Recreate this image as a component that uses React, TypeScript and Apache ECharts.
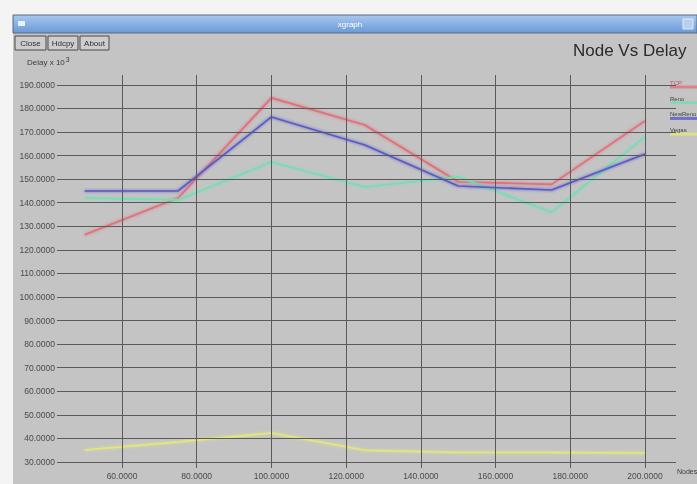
import React, { useEffect, useRef } from "react";
import * as echarts from "echarts";

const nodes = [50, 75, 100, 125, 150, 175, 200];
const tcp = [126.4, 142, 184.5, 173, 148.9, 147.8, 174.7];
const reno = [142, 141.2, 157.3, 146.7, 151, 136, 168];
const newReno = [145, 145, 176.4, 164.5, 147.1, 145.4, 160.7];
const vegas = [35.1, 38.5, 42.3, 35, 34, 34, 33.8];

const seriesNames = ["TCP", "Reno", "NewReno", "Vegas"];
const seriesColors = ["#e0707a", "#78dcb4", "#5a5ac8", "#e4e87a"];
const seriesValues = [tcp, reno, newReno, vegas];

const xTicks = [60, 80, 100, 120, 140, 160, 180, 200];
const yTicks = [30, 40, 50, 60, 70, 80, 90, 100, 110, 120, 130, 140, 150, 160, 170, 180, 190];

const buttons = ["Close", "Hdcpy", "About"];

export default function App() {
  const ref = useRef<HTMLDivElement>(null);
  useEffect(() => {
    if (!ref.current) return;
    const chart = echarts.init(ref.current, null, { renderer: "svg" });
    const font = "Liberation Sans";
    const gridStyle = { color: "#5a5a5a", width: 1, type: "solid" as const };
    const labelStyle = {
      fontFamily: font,
      fontSize: 8.5,
      color: "#4a4a4a",
      formatter: (p: any) => Number(p.value).toFixed(4),
    };
    const graphics: any[] = [
      { type: "rect", z: -10, shape: { x: 0, y: 0, width: 697, height: 484 }, style: { fill: "#f4f4f4" } },
      { type: "rect", z: -9, shape: { x: 13, y: 33, width: 684, height: 451 }, style: { fill: "#c4c4c4" } },
      {
        type: "rect",
        z: -8,
        shape: { x: 13, y: 15, width: 684, height: 18 },
        style: {
          fill: new echarts.graphic.LinearGradient(0, 0, 0, 1, [
            { offset: 0, color: "#a8c8ee" },
            { offset: 1, color: "#6b9ad6" },
          ]),
          stroke: "#5a6a80",
          lineWidth: 1,
        },
      },
      { type: "rect", shape: { x: 18, y: 21, width: 7, height: 5 }, style: { fill: "#e8f0fa" } },
      { type: "rect", shape: { x: 683, y: 19, width: 10, height: 10 }, style: { fill: "#b8d0ee", stroke: "#e0ecfa" } },
      {
        type: "text",
        x: 350,
        y: 24,
        style: { text: "xgraph", fill: "#ffffff", font: `8px ${font}`, align: "center", verticalAlign: "middle" },
      },
      {
        type: "text",
        x: 573,
        y: 50,
        style: { text: "Node Vs Delay", fill: "#2a2a2a", font: `17px ${font}`, verticalAlign: "middle" },
      },
      {
        type: "text",
        x: 27,
        y: 62,
        style: {
          text: "Delay x 10{sup|3}",
          fill: "#3a3a3a",
          font: `8px ${font}`,
          verticalAlign: "middle",
          rich: { sup: { fontSize: 7, fill: "#3a3a3a", verticalAlign: "top", padding: [0, 0, 6, 1] } },
        },
      },
      {
        type: "text",
        x: 677,
        y: 471,
        style: { text: "Nodes", fill: "#3a3a3a", font: `7px ${font}`, verticalAlign: "middle" },
      },
    ];
    const btnX = [15, 48, 80];
    const btnW = [31, 30, 29];
    buttons.forEach((b, i) => {
      graphics.push({
        type: "rect",
        shape: { x: btnX[i], y: 36, width: btnW[i], height: 14 },
        style: { fill: "#cdcdcd", stroke: "#4a4a4a", lineWidth: 1 },
      });
      graphics.push({
        type: "text",
        x: btnX[i] + btnW[i] / 2,
        y: 43,
        style: { text: b, fill: "#303030", font: `8px ${font}`, align: "center", verticalAlign: "middle" },
      });
    });
    seriesNames.forEach((n, i) => {
      const y = 83 + i * 15.7;
      graphics.push({
        type: "line",
        shape: { x1: 670, y1: y + 4, x2: 697, y2: y + 4 },
        style: { stroke: seriesColors[i], lineWidth: 3, opacity: 0.8 },
      });
      graphics.push({
        type: "text",
        x: 670,
        y,
        style: { text: n, fill: i === 0 ? "#c05060" : "#404040", font: `6px ${font}`, verticalAlign: "middle" },
      });
    });

    const option: any = {
      animation: false,
      backgroundColor: "transparent",
      graphic: graphics,
      grid: { left: 57, top: 75, width: 619, height: 393 },
      xAxis: { type: "value", min: 42.6, max: 208.3, show: false, splitLine: { show: false } },
      yAxis: { type: "value", min: 27.45, max: 194.2, show: false, splitLine: { show: false } },
      series: [
        {
          type: "line",
          name: "grid",
          z: 1,
          data: [[nodes[0], yTicks[0]]],
          showSymbol: false,
          symbol: "none",
          lineStyle: { opacity: 0 },
          markLine: {
            silent: true,
            symbol: ["none", "none"],
            animation: false,
            lineStyle: gridStyle,
            emphasis: { disabled: true },
            data: [
              ...yTicks.map((v) => ({
                yAxis: v,
                label: { ...labelStyle, position: "start", distance: 2 },
              })),
              ...xTicks.map((v) => ({
                xAxis: v,
                label: { ...labelStyle, position: "start", distance: 3 },
              })),
            ],
          },
        },
        ...seriesNames.map((n, i) => ({
          type: "line",
          name: n,
          z: 2,
          data: nodes.map((x, j) => [x, seriesValues[i][j]]),
          symbol: "none",
          showSymbol: false,
          lineStyle: {
            color: seriesColors[i],
            width: 1.6,
            shadowColor: seriesColors[i],
            shadowBlur: 3,
          },
          itemStyle: { color: seriesColors[i] },
        })),
      ],
    };
    chart.setOption(option);
    return () => chart.dispose();
  }, []);
  return (
    <div
      ref={ref}
      style={{ position: "fixed", left: 0, top: 0, width: 697, height: 484 }}
    />
  );
}
